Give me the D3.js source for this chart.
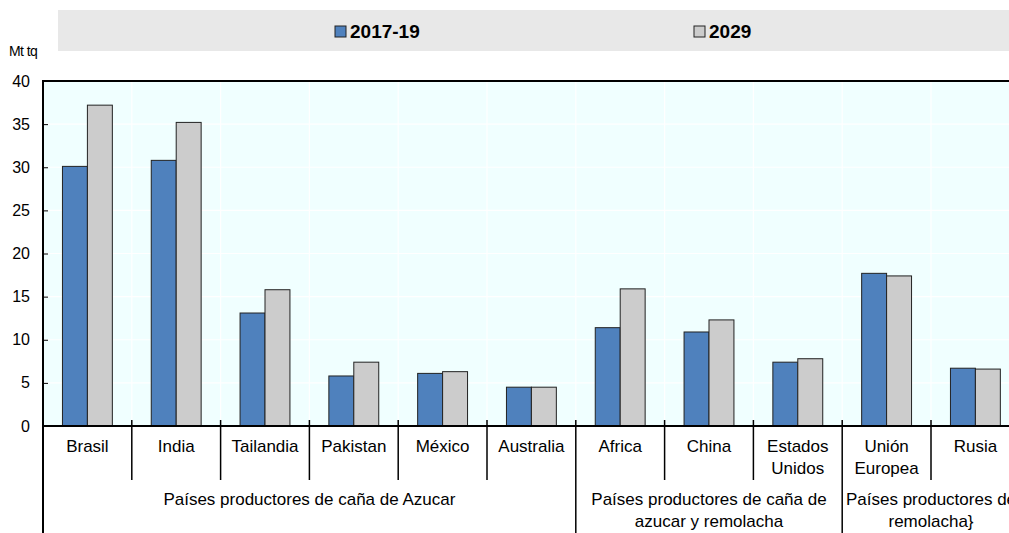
<!DOCTYPE html>
<html><head><meta charset="utf-8">
<script src="https://cdn.jsdelivr.net/npm/d3@7"></script>
<style>
body{margin:0;background:#fff;}
text{font-family:"Liberation Sans",Arial,sans-serif;fill:#000;}
</style></head>
<body><svg id="c" width="1009" height="533"></svg>
<script>
const categories = ["Brasil","India","Tailandia","Pakistan","México","Australia","Africa","China","Estados Unidos","Unión Europea","Rusia"];
const categoryLines = [["Brasil"],["India"],["Tailandia"],["Pakistan"],["México"],["Australia"],["Africa"],["China"],["Estados","Unidos"],["Unión","Europea"],["Rusia"]];
const series = ["2017-19","2029"];
const values2017 = [30.1,30.8,13.1,5.8,6.1,4.5,11.4,10.9,7.4,17.7,6.7];
const values2029 = [37.2,35.2,15.8,7.4,6.3,4.5,15.9,12.3,7.8,17.4,6.6];
const groups = [
  {lines:["Países productores de caña de Azucar"], start:0, end:5},
  {lines:["Países productores de caña de","azucar y remolacha"], start:6, end:8},
  {lines:["Países productores de","remolacha}"], start:9, end:10}
];
const yTicks = [0,5,10,15,20,25,30,35,40];
const unitLabel = "Mt tq";
const colors = ["#4f81bd","#cccccc"];

const svg = d3.select("#c");
const pLeft = 43, pTop = 81, pBottom = 426, bandW = 88.8;
const pRight = pLeft + bandW*categories.length;

const x = d3.scaleBand().domain(categories).range([pLeft,pRight]).paddingInner(0).paddingOuter(0);
const xs = d3.scaleBand().domain(series).range([0,x.bandwidth()]).paddingInner(0).paddingOuter(0.78);
const y = d3.scaleLinear().domain([0,40]).range([pBottom,pTop]);

svg.append("rect").attr("x",pLeft).attr("y",pTop).attr("width",pRight-pLeft).attr("height",pBottom-pTop).attr("fill","#f0ffff");
svg.append("g").selectAll("line").data(yTicks.slice(1,-1)).join("line")
  .attr("x1",pLeft).attr("x2",pRight).attr("y1",d=>y(d)).attr("y2",d=>y(d)).attr("stroke","#fff").attr("stroke-width",1.2);
svg.append("g").selectAll("line").data(categories.slice(1)).join("line")
  .attr("x1",d=>x(d)).attr("x2",d=>x(d)).attr("y1",pTop).attr("y2",pBottom).attr("stroke","#fff").attr("stroke-width",1.2);

const data = categories.map((c,i)=>({c, v:[values2017[i],values2029[i]]}));
const g = svg.append("g").selectAll("g").data(data).join("g").attr("transform",d=>`translate(${x(d.c)},0)`);
g.selectAll("rect").data(d=>d.v.map((v,j)=>({s:series[j],v,j}))).join("rect")
  .attr("x",d=>xs(d.s)).attr("width",xs.bandwidth())
  .attr("y",d=>y(d.v)).attr("height",d=>y(0)-y(d.v))
  .attr("fill",d=>colors[d.j]).attr("stroke","#222").attr("stroke-width",1);

svg.append("line").attr("x1",pLeft).attr("x2",pRight).attr("y1",pTop).attr("y2",pTop).attr("stroke","#000").attr("stroke-width",2);
const ya = svg.append("g").attr("transform",`translate(${pLeft},0)`).call(d3.axisRight(y).tickValues(yTicks).tickSize(5).tickFormat(""));
ya.select(".domain").remove();
ya.selectAll("line").attr("stroke","#000");
svg.append("g").selectAll("text").data(yTicks).join("text")
  .attr("x",30).attr("y",d=>y(d)).attr("dy","0.35em").attr("text-anchor","end").attr("font-size",16).text(d=>d);
svg.append("line").attr("x1",pLeft).attr("x2",pLeft).attr("y1",pTop-1).attr("y2",533).attr("stroke","#000").attr("stroke-width",2);
svg.append("text").attr("x",9).attr("y",56).attr("font-size",14).attr("letter-spacing",-0.6).text(unitLabel);
svg.append("line").attr("x1",pLeft).attr("x2",pRight).attr("y1",pBottom).attr("y2",pBottom).attr("stroke","#000").attr("stroke-width",2);

const groupStarts = groups.map(gr=>gr.start).filter(s=>s>0);
svg.append("g").selectAll("line").data(categories.slice(1).map((c,i)=>i+1)).join("line")
  .attr("x1",i=>x(categories[i])).attr("x2",i=>x(categories[i]))
  .attr("y1",420).attr("y2",i=>groupStarts.includes(i)?533:480)
  .attr("stroke","#000").attr("stroke-width",1.5);
svg.append("line").attr("x1",pRight).attr("x2",pRight).attr("y1",420).attr("y2",533).attr("stroke","#000").attr("stroke-width",1.5);

const cl = svg.append("g").selectAll("text").data(categories.map((c,i)=>({c,lines:categoryLines[i]}))).join("text")
  .attr("x",d=>x(d.c)+x.bandwidth()/2).attr("y",452).attr("text-anchor","middle").attr("font-size",17);
cl.selectAll("tspan").data(d=>d.lines.map((l,k)=>({l,k,x:x(d.c)+x.bandwidth()/2}))).join("tspan")
  .attr("x",d=>d.x).attr("dy",d=>d.k?22:0).text(d=>d.l);

const gl = svg.append("g").selectAll("text").data(groups).join("text")
  .attr("y",505).attr("text-anchor","middle").attr("font-size",17);
gl.selectAll("tspan").data(d=>{const cx=(x(categories[d.start])+x(categories[d.end])+x.bandwidth())/2; return d.lines.map((l,k)=>({l,k,cx}));}).join("tspan")
  .attr("x",d=>d.cx).attr("dy",d=>d.k?22:0).text(d=>d.l);

svg.append("rect").attr("x",58).attr("y",10).attr("width",960).attr("height",41).attr("fill","#e8e8e8");
const legX = [335,694];
const lg = svg.append("g").selectAll("g").data(series).join("g").attr("transform",(d,i)=>`translate(${legX[i]},26)`);
lg.append("rect").attr("width",11).attr("height",11).attr("fill",(d,i)=>colors[i]).attr("stroke","#222").attr("stroke-width",1);
lg.append("text").attr("x",15).attr("y",12).attr("font-size",19).attr("font-weight","bold").text(d=>d);
</script></body></html>
